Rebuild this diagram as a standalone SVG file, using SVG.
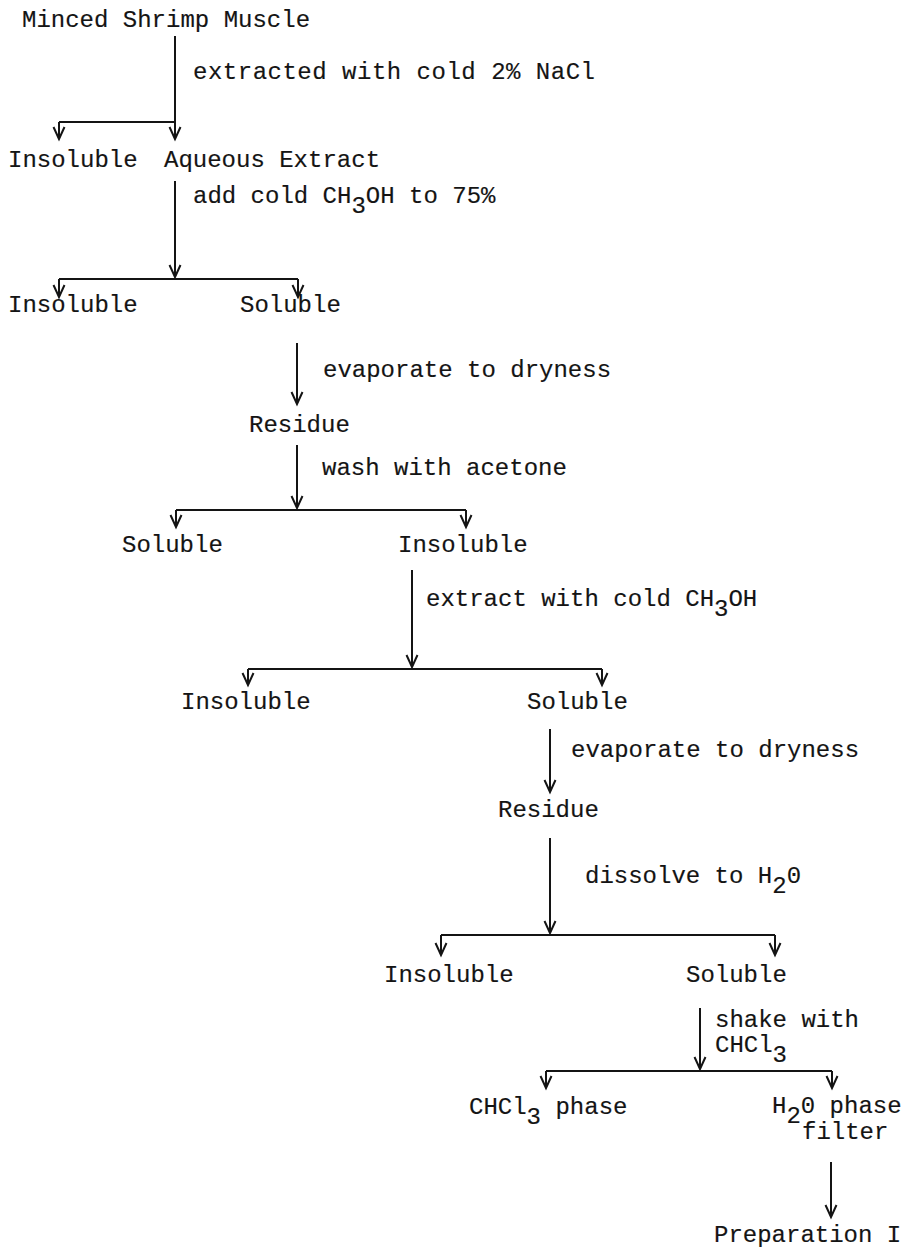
<svg xmlns="http://www.w3.org/2000/svg" width="904" height="1247" viewBox="0 0 904 1247">
<style>
text{font-family:"Liberation Mono","Courier New",monospace;font-size:24px;fill:#141414;stroke:#141414;stroke-width:0.15}
.c path{fill:none;stroke:#141414;stroke-width:2}
.a{marker-end:url(#ah)}
</style>
<defs>
<marker id="ah" markerUnits="userSpaceOnUse" markerWidth="16" markerHeight="14" refX="12" refY="5.5" orient="auto" overflow="visible">
<path d="M0,0 L12,5.5 L0,11" fill="none" stroke="#141414" stroke-width="2"/>
</marker>
</defs>
<rect width="904" height="1247" fill="#fff"/>
<g id="n-minced"><text x="22" y="27">Minced Shrimp Muscle</text></g>
<g id="l-extracted"><text x="193" y="79" textLength="402" lengthAdjust="spacing">extracted with cold 2% NaCl</text></g>
<g id="n-insoluble1"><text x="8" y="167">Insoluble</text></g>
<g id="n-aqueous"><text x="164" y="167">Aqueous Extract</text></g>
<g id="l-addch3oh"><text x="193" y="203">add cold CH<tspan dy="10">3</tspan><tspan dy="-10">OH to 75%</tspan></text></g>
<g id="n-insoluble2"><text x="8" y="312">Insoluble</text></g>
<g id="n-soluble2"><text x="240" y="312">Soluble</text></g>
<g id="l-evap1"><text x="323" y="377">evaporate to dryness</text></g>
<g id="n-residue1"><text x="249" y="432">Residue</text></g>
<g id="l-wash"><text x="322" y="475">wash with acetone</text></g>
<g id="n-soluble3"><text x="122" y="552">Soluble</text></g>
<g id="n-insoluble3"><text x="398" y="552">Insoluble</text></g>
<g id="l-extract"><text x="426" y="606">extract with cold CH<tspan dy="10">3</tspan><tspan dy="-10">OH</tspan></text></g>
<g id="n-insoluble4"><text x="181" y="709">Insoluble</text></g>
<g id="n-soluble4"><text x="527" y="709">Soluble</text></g>
<g id="l-evap2"><text x="571" y="757">evaporate to dryness</text></g>
<g id="n-residue2"><text x="498" y="817">Residue</text></g>
<g id="l-dissolve"><text x="585" y="883">dissolve to H<tspan dy="10">2</tspan><tspan dy="-10">0</tspan></text></g>
<g id="n-insoluble5"><text x="384" y="982">Insoluble</text></g>
<g id="n-soluble5"><text x="686" y="982">Soluble</text></g>
<g id="l-shake"><text x="715" y="1027">shake with</text><text x="715" y="1052">CHCl<tspan dy="10">3</tspan></text></g>
<g id="n-chcl3"><text x="469" y="1114">CHCl<tspan dy="10">3</tspan><tspan dy="-10"> phase</tspan></text></g>
<g id="n-h2o"><text x="772" y="1113">H<tspan dy="10">2</tspan><tspan dy="-10">0 phase</tspan></text><text x="802" y="1139">filter</text></g>
<g id="n-prep"><text x="714" y="1242">Preparation I</text></g>
<g id="connectors" class="c">
<path class="a" d="M175,36 V139"/>
<path d="M59,122 H175"/>
<path class="a" d="M59,122 V139"/>
<path class="a" d="M175,181 V277"/>
<path d="M59,279 H298"/>
<path class="a" d="M59,279 V297"/>
<path class="a" d="M298,279 V297"/>
<path class="a" d="M297,343 V404"/>
<path class="a" d="M297,445 V508"/>
<path d="M176,510 H466"/>
<path class="a" d="M176,510 V527"/>
<path class="a" d="M466,510 V527"/>
<path class="a" d="M412,570 V667"/>
<path d="M248,669 H602"/>
<path class="a" d="M248,669 V685"/>
<path class="a" d="M602,669 V685"/>
<path class="a" d="M550,729 V792"/>
<path class="a" d="M550,838 V933"/>
<path d="M441,935 H775"/>
<path class="a" d="M441,935 V955"/>
<path class="a" d="M775,935 V955"/>
<path class="a" d="M700,1008 V1069"/>
<path d="M546,1071 H832"/>
<path class="a" d="M546,1071 V1088"/>
<path class="a" d="M832,1071 V1088"/>
<path class="a" d="M831,1162 V1217"/>
</g>
</svg>
